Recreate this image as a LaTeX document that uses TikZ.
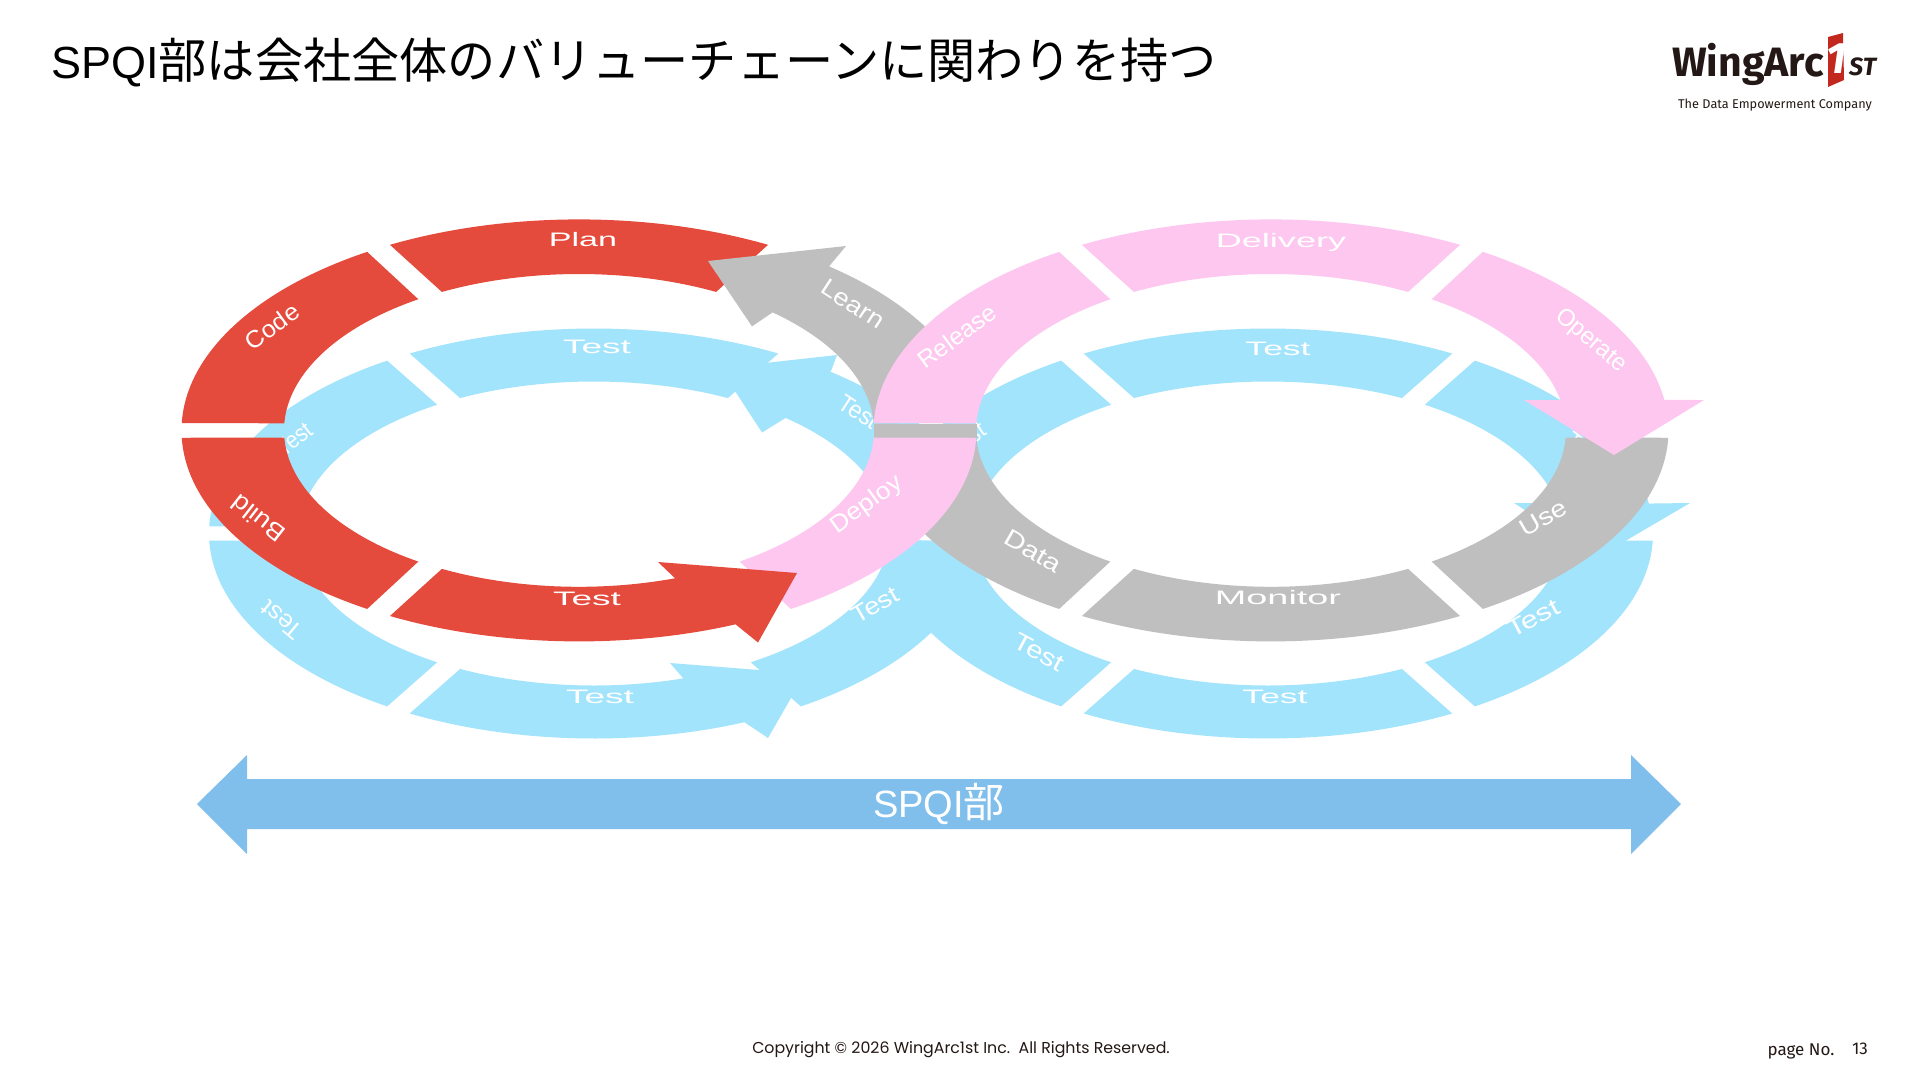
\documentclass[tikz,border=0pt]{standalone}
\usepackage{fontspec}
\setmainfont{Liberation Sans}
\newfontfamily\jpfont{Noto Sans CJK JP}
\newfontfamily\popfont{Poppins}
\newfontfamily\firafont{Fira Sans}
\definecolor{redseg}{HTML}{E54B3D}
\definecolor{blueseg}{HTML}{A3E4FD}
\definecolor{pinkseg}{HTML}{FDC7F0}
\definecolor{grayseg}{HTML}{BFBFBF}
\definecolor{spanblue}{HTML}{80BFEC}
\definecolor{ink}{HTML}{231815}
\definecolor{logored}{HTML}{C2281E}
% upper rings (centres 579 and 1271), lower blue rings (centres 594 and 1268)
\newcommand{\UO}[3]{plot[domain=#2:#3,samples=60] ({#1+397.5*cos(\x)},{430.4+211*sin(\x)})}
\newcommand{\UI}[3]{plot[domain=#2:#3,samples=60] ({#1+295*cos(\x)},{430.4+156.4*sin(\x)})}
\newcommand{\BO}[3]{plot[domain=#2:#3,samples=60] ({#1+385*cos(\x)},{533.5+205*sin(\x)})}
\newcommand{\BI}[3]{plot[domain=#2:#3,samples=60] ({#1+295*cos(\x)},{533.5+152*sin(\x)})}
\newcommand{\uo}[3]{-- plot[domain=#2:#3,samples=60] ({#1+397.5*cos(\x)},{430.4+211*sin(\x)})}
\newcommand{\ui}[3]{-- plot[domain=#2:#3,samples=60] ({#1+295*cos(\x)},{430.4+156.4*sin(\x)})}
\newcommand{\bo}[3]{-- plot[domain=#2:#3,samples=60] ({#1+385*cos(\x)},{533.5+205*sin(\x)})}
\newcommand{\bi}[3]{-- plot[domain=#2:#3,samples=60] ({#1+295*cos(\x)},{533.5+152*sin(\x)})}
\tikzset{
  lab/.style={text=white,font=\fontsize{19.5}{19.5}\selectfont,transform shape,inner sep=0pt},
  labr/.style={text=white,font=\fontsize{21}{21}\selectfont,transform shape,inner sep=0pt},
}
\begin{document}
\begin{tikzpicture}[x=1pt,y=-1pt]
\useasboundingbox (0,0) rectangle (1920,1080);
\fill[white] (0,0) rectangle (1920,1080);
% ===== blue lower layer =====
% left loop
\fill[blueseg] \BO{594}{241.4}{298.6} \bi{594}{297}{243} -- cycle;
\fill[blueseg] \BO{594}{237.5}{182} \bi{594}{182.6}{237.9} -- cycle;
\fill[blueseg] \BO{594}{178}{122.5} \bi{594}{122.1}{177.4} -- cycle;
\fill[blueseg] \BO{594}{57.5}{2} \bi{594}{2.6}{57.9} -- cycle;
% right loop
\fill[blueseg] \BO{1268}{241.4}{298.6} \bi{1268}{297}{243} -- cycle;
\fill[blueseg] \BO{1268}{237.5}{182} \bi{1268}{182.6}{237.9} -- cycle;
\fill[blueseg] \BO{1268}{122.5}{178} \bi{1268}{177.4}{122.1} -- cycle;
\fill[blueseg] \BO{1268}{118.6}{61.4} \bi{1268}{63}{117} -- cycle;
\fill[blueseg] \BO{1268}{57.5}{2} \bi{1268}{2.6}{57.9} -- cycle;
% blue arrow: top-right of right loop, head at y=503
\fill[blueseg] \BO{1268}{302.5}{351.6} -- (1690,503) -- (1598,557) -- (1514,503) \bi{1268}{348.6}{302.1} -- cycle;
% blue arrow: right side of left loop, pointing up-left
\fill[blueseg] (720,368) -- (837,355) -- (831,371) \bo{594}{307.8}{358} \bi{594}{357.4}{310.5} -- (762,432.5) -- cycle;
% blue arrow: bottom of left loop
\fill[blueseg] \BO{594}{118.6}{67} -- (768,738) -- (805,673.6) -- (670,663) -- (683,678) \bi{594}{72.5}{117} -- cycle;
% blue labels
\node[lab,xscale=1.9] (t1) at (597,347) {Test};
\node[lab,xscale=1.9] (t2) at (600,697) {Test};
\node[lab,xscale=1.82] (t3) at (1278,349) {Test};
\node[lab,xscale=1.82] (t4) at (1275,697) {Test};
\node[labr,rotate=38,yscale=1.15] (t5) at (294,439) {Test};
\node[labr,rotate=140,xscale=1.2,yscale=1.15] (t6) at (282,620) {Test};
\node[labr,rotate=-33,xscale=1.1,yscale=1.15] (t7) at (859,412) {Test};
\node[labr,rotate=30,xscale=1.3,yscale=1.15] (t8) at (875,605) {Test};
\node[labr,rotate=-28,xscale=1.4,yscale=1.15] (t9) at (1039,652) {Test};
\node[labr,rotate=33,xscale=1.1,yscale=1.15] (t10) at (966,439) {Test};
\node[labr,rotate=-38,xscale=1.1,yscale=1.15] (t11) at (1585,450) {Test};
\node[labr,rotate=28,xscale=1.46,yscale=1.15] (t12) at (1533,618) {Test};
% ===== red =====
\fill[redseg] \UO{579}{241.6}{298.4} \ui{579}{297.7}{242.3} -- cycle;
\fill[redseg] \UO{579}{237.8}{182} \ui{579}{182.6}{237} -- cycle;
\fill[redseg] \UO{579}{178}{122.2} \ui{579}{123}{177.4} -- cycle;
\node[lab,xscale=1.75] (plan) at (583,240) {Plan};
\node[labr,rotate=36,xscale=1.2,yscale=1.15] (code) at (272,326.4) {Code};
\node[labr,rotate=142,xscale=1.3,yscale=1.15] (build) at (258,519) {Build};
% ===== gray upper =====
\fill[grayseg] (708,261) -- (846,246) -- (829,266.4) \uo{579}{309}{358} \ui{579}{357.4}{311} -- (752,326.4) -- cycle;
\fill[grayseg] (874,424) rectangle (977,438);
\fill[grayseg] \UO{1271}{122.2}{178} \ui{1271}{177.4}{123} -- cycle;
\fill[grayseg] \UO{1271}{57.8}{2} \ui{1271}{2.6}{57} -- cycle;
\fill[grayseg] \UO{1271}{118.4}{61.6} \ui{1271}{62.3}{117.7} -- cycle;
\node[labr,rotate=-33,xscale=1.3,yscale=1.15] (learn) at (853,304) {Learn};
\node[labr,rotate=-30,xscale=1.4,yscale=1.15] (data) at (1033,551) {Data};
\node[labr,rotate=30,xscale=1.35,yscale=1.15] (use) at (1543,518) {Use};
\node[lab,xscale=1.94] (monitor) at (1278,598) {Monitor};
% ===== pink =====
\fill[pinkseg] \UO{1271}{241.6}{298.4} \ui{1271}{297.7}{242.3} -- cycle;
\fill[pinkseg] \UO{1271}{237.8}{182} \ui{1271}{182.6}{237} -- cycle;
\fill[pinkseg] \UO{579}{57.8}{2} \ui{579}{2.6}{57} -- cycle;
\fill[pinkseg] \UO{1271}{302.2}{351.7} -- (1704,400) -- (1614,455) -- (1524,400) \ui{1271}{348.8}{303} -- cycle;
\node[lab,xscale=1.85] (delivery) at (1281,242) {Delivery};
\node[labr,rotate=36,xscale=1.17,yscale=1.15] (release) at (957,336) {Release};
\node[labr,rotate=36,xscale=1.25,yscale=1.15] (deploy) at (867,505) {Deploy};
\node[labr,rotate=-40,xscale=1.12,yscale=1.15] (operate) at (1591,341) {Operate};
% ===== red bottom arrow =====
\fill[redseg] \UO{579}{118.4}{66.8} -- (758,642.5) -- (797,573) -- (658,562) -- (675,578.2) \ui{579}{71.2}{117.7} -- cycle;
\node[lab,xscale=1.9] (rtest) at (587,598.6) {Test};
% ===== span arrow =====
\fill[spanblue] (197,804) -- (247,755) -- (247,779) -- (1631,779) -- (1631,755) -- (1681,804) -- (1631,854) -- (1631,829) -- (247,829) -- (247,854) -- cycle;
\node[inner sep=0pt,text=white,font=\fontsize{38}{38}\selectfont] (span) at (939,804) {SPQI{\jpfont\fontsize{41}{41}\selectfont 部}};
% ===== title =====
\node[anchor=west,inner sep=0pt,text=black,font=\fontsize{45}{45}\selectfont] (title) at (51,62) {SPQI{\jpfont\fontsize{48.2}{48.2}\selectfont 部は会社全体のバリューチェーンに関わりを持つ}};
% ===== logo =====
\fill[logored] (1828,37) -- (1843,33) -- (1844,80) -- (1828,87) -- cycle;
\node[anchor=base west,inner sep=0pt,text=ink,font=\firafont\bfseries\fontsize{41}{41}\selectfont] (wa) at (1672,76) {WingArc};
\node[inner sep=0pt,text=white,font=\firafont\bfseries\itshape\fontsize{44}{44}\selectfont] (one) at (1836,59) {1};
\node[anchor=base west,inner sep=0pt,text=ink,font=\firafont\itshape\bfseries\fontsize{25}{25}\selectfont] (st) at (1849,75) {ST};
\node[inner sep=0pt,text=ink,font=\firafont\fontsize{12.7}{12.7}\selectfont] (tag) at (1775,105) {The Data Empowerment Company};
% ===== footer =====
\node[inner sep=0pt,text=ink,font=\popfont\fontsize{15.8}{15.8}\selectfont] (copy) at (961,1050) {Copyright © 2026 WingArc1st Inc.\ \ All Rights Reserved.};
\node[inner sep=0pt,text=ink,font=\firafont\fontsize{17}{17}\selectfont] (pg) at (1801,1051) {page No.};
\node[inner sep=0pt,text=ink,font=\firafont\fontsize{17}{17}\selectfont] (num) at (1860,1049) {13};
\end{tikzpicture}
\end{document}
